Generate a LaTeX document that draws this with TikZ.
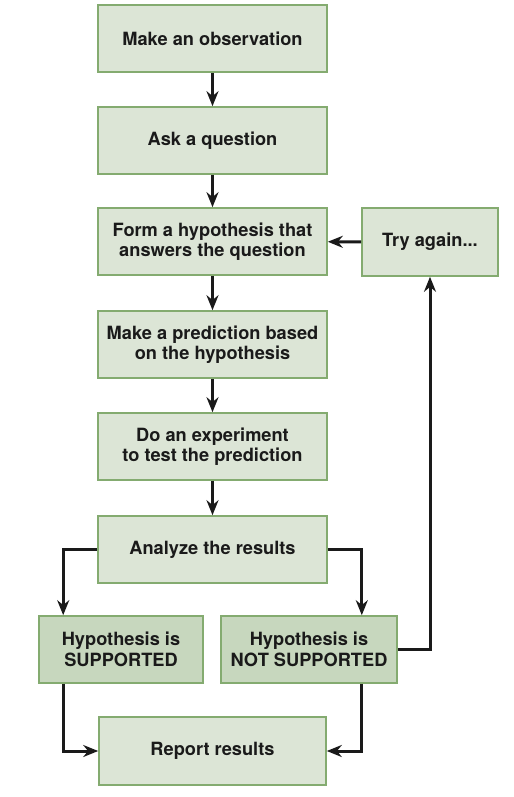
\documentclass[tikz,border=0pt]{standalone}
\usepackage{fontspec}
\setmainfont{TeX Gyre Heros}
\usepackage{tikz}
\usetikzlibrary{arrows.meta,calc}
\definecolor{textdark}{HTML}{1A1A1A}
\definecolor{boxfill}{HTML}{DCE5D6}
\definecolor{boxkey}{HTML}{C7D7BE}
\definecolor{boxedge}{HTML}{84AB70}
\tikzset{
  every node/.append style={font=\bfseries\fontsize{18.3}{20.5}\selectfont,text=textdark,align=center},
  stepbox/.style={draw=boxedge,fill=boxfill,line width=1.6bp,minimum width=229bp,minimum height=67bp,inner sep=0pt},
  keybox/.style={stepbox,fill=boxkey,minimum width=164bp},
  link/.style={->,line width=3bp,textdark}
}

\begin{document}
\begin{tikzpicture}[x=1bp,y=-1bp,>={Stealth[length=15bp,width=12bp]}]
\useasboundingbox (0,0) rectangle (514,797);
\node[stepbox] (obs) at (212.5,38.5) {Make an observation};
\node[stepbox] (ask) at (212.5,140.5) {Ask a question};
\node[stepbox] (form) at (212.5,241.5) {Form a hypothesis that\\answers the question};
\node[stepbox] (pred) at (212.5,344.5) {Make a prediction based\\on the hypothesis};
\node[stepbox] (exp) at (212.5,446.5) {Do an experiment\\to test the prediction};
\node[stepbox] (ana) at (212.5,549.5) {Analyze the results};
\node[keybox] (sup) at (121,649.5) {Hypothesis is\\SUPPORTED};
\node[keybox,minimum width=176bp] (nsup) at (309,649.5) {Hypothesis is\\NOT SUPPORTED};
\node[stepbox,minimum width=227bp,minimum height=68bp] (rep) at (212.5,751) {Report results};
\node[stepbox,minimum width=136bp,minimum height=68bp] (try) at (430,242) {Try again...};
\coordinate (supx) at ($(sup.south west)+(25,0)$);
\coordinate (nsupx) at ($(nsup.south east)+(-36,0)$);
\draw[link] (obs)--(ask);
\draw[link] (ask)--(form);
\draw[link] (form)--(pred);
\draw[link] (pred)--(exp);
\draw[link] (exp)--(ana);
\draw[link] (ana.west) -| (supx |- sup.north);
\draw[link] (ana.east) -| (nsupx |- nsup.north);
\draw[link] (supx) |- (rep.west);
\draw[link] (nsupx) |- (rep.east);
\draw[link] (nsup.east) -| (try.south);
\draw[link] (try)--(form);
\end{tikzpicture}
\end{document}
